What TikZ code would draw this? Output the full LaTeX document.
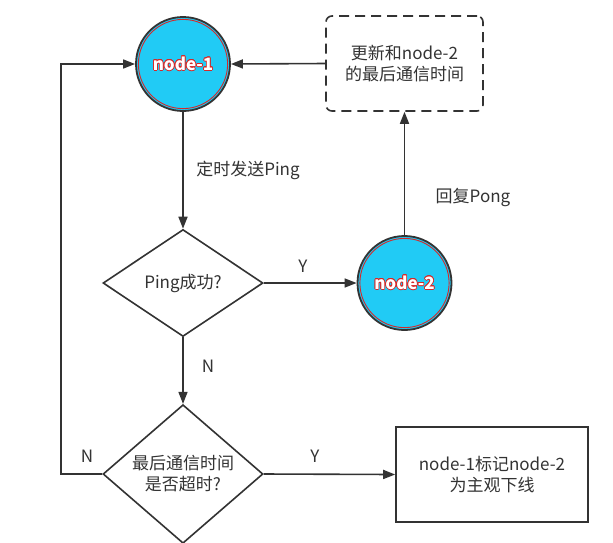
\documentclass[tikz,border=0pt]{standalone}
\usepackage{fontspec}
\setmainfont{Noto Sans CJK SC}
\usepackage{contour}
\usetikzlibrary{shapes.geometric,arrows.meta}
\contourlength{0.7pt}
\definecolor{nodeblue}{RGB}{33,203,245}
\definecolor{linegray}{RGB}{51,51,51}
\definecolor{ringred}{RGB}{214,40,40}
\tikzset{
  txt/.style={font=\fontsize{17}{21}\selectfont, text=linegray, align=center},
  peer/.style={circle, draw=linegray, line width=1.8pt, fill=nodeblue, minimum size=94pt, inner sep=0pt,
    font=\fontsize{17}{21}\selectfont\bfseries, text=white,
    path picture={\draw[ringred, line width=0.9pt] (path picture bounding box.center) circle (44.6pt);}},
  decide/.style={diamond, draw=linegray, line width=1.6pt, minimum width=160pt, minimum height=107pt, inner sep=0pt, txt},
  step box/.style={rectangle, draw=linegray, line width=1.6pt, minimum width=192pt, minimum height=95pt, txt},
  arr/.style={draw=linegray, line width=1.6pt, -{Triangle[length=12pt, width=9pt]}}
}
\begin{document}
\begin{tikzpicture}[x=1pt, y=-1pt]
\useasboundingbox[fill=white] (0,0) rectangle (613,542);

\node[peer] (n1) at (183,64) {\contour{ringred}{node-1}};
\node[rectangle, rounded corners=6pt, draw=linegray, line width=1.6pt, dash pattern=on 10pt off 6pt,
  minimum width=157pt, minimum height=95pt, txt] (upd) at (404.5,63.5) {更新和node-2\\的最后通信时间};

\node[decide] (ping) at (183,283) {Ping成功?};
\node[peer] (n2) at (404.5,283) {\contour{ringred}{node-2}};

\node[decide] (last) at (183,474) {最后通信时间\\是否超时?};
\node[step box] (mark) at (492,474.5) {node-1标记node-2\\为主观下线};

\coordinate (loopb) at (61,474);
\coordinate (loopt) at (61,64);

\draw[arr] (n1.south) -- (ping.north);
\draw[arr] (ping.east) -- (n2.west);
\draw[arr] (n2.north) -- (upd.south);
\draw[arr] (upd.west) -- (n1.east);
\draw[arr] (ping.south) -- (last.north);
\draw[arr] (last.east) -- (mark.west);
\draw[arr] (last.west) -- (loopb) -- (loopt) -- (n1.west);

\node[txt] (lsend) at (248,170) {定时发送Ping};
\node[txt] (lpong) at (473,197) {回复Pong};
\node[txt] (ly1) at (303,266) {Y};
\node[txt] (ln1) at (208,366) {N};
\node[txt] (ly2) at (315,456) {Y};
\node[txt] (ln2) at (87,456) {N};
\end{tikzpicture}
\end{document}
